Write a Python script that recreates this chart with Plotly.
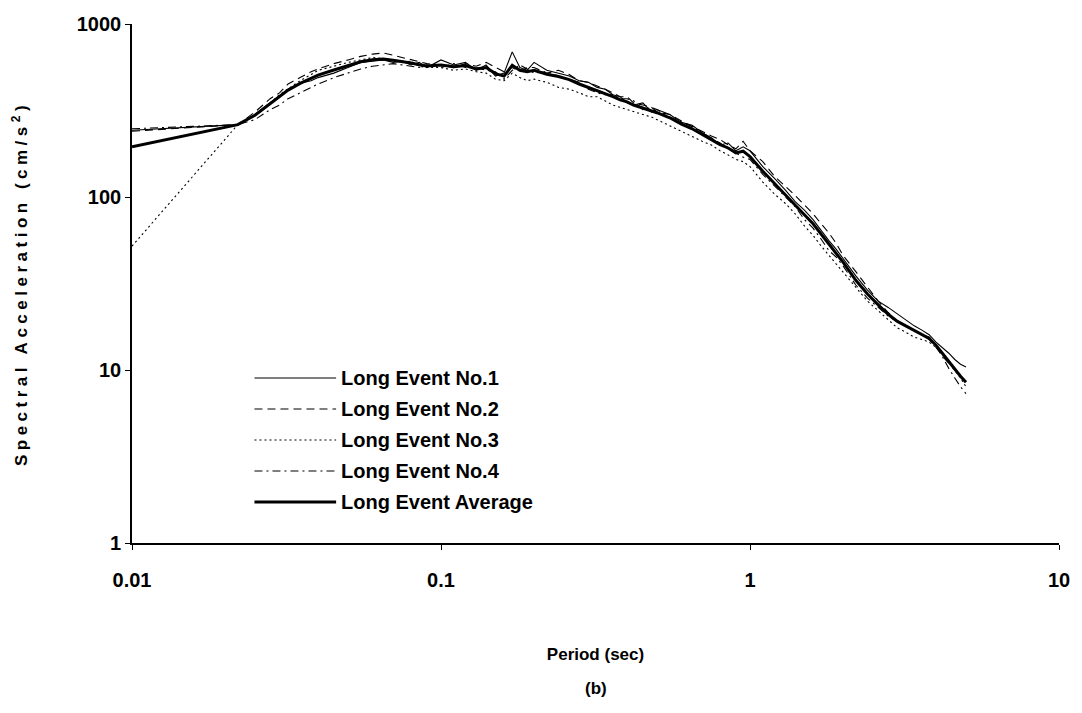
import plotly.graph_objects as go

# Spectral periods (s)
periods = [0.01, 0.022, 0.025, 0.028, 0.03, 0.032, 0.035, 0.038, 0.04, 0.045,
           0.05, 0.055, 0.06, 0.065, 0.07, 0.075, 0.08, 0.085, 0.09, 0.1,
           0.11, 0.12, 0.13, 0.14, 0.15, 0.16, 0.17, 0.18, 0.19, 0.2,
           0.22, 0.24, 0.26, 0.28, 0.3, 0.32, 0.34, 0.36, 0.38, 0.4,
           0.42, 0.45, 0.48, 0.5, 0.55, 0.6, 0.65, 0.7, 0.75, 0.8,
           0.85, 0.9, 0.95, 1.0, 1.1, 1.2, 1.3, 1.4, 1.5, 1.6,
           1.7, 1.8, 1.9, 2.0, 2.2, 2.4, 2.6, 2.8, 3.0, 3.2,
           3.4, 3.6, 3.8, 4.0, 4.2, 4.4, 4.6, 4.8, 5.0]

# Spectral acceleration (cm/s^2) for each record
event_1 = [243, 262, 300, 350, 380, 420, 455, 470, 490, 520,
           560, 600, 610, 620, 600, 610, 580, 600, 560, 620,
           580, 600, 540, 580, 500, 520, 690, 560, 540, 600,
           540, 520, 500, 470, 460, 430, 420, 390, 380, 350,
           340, 350, 310, 320, 300, 270, 260, 235, 220, 200,
           205, 185, 195, 185, 150, 128, 110, 94, 84, 74,
           64, 56, 50, 44, 35, 29, 25, 23, 21, 19.5,
           18, 17, 16, 14.5, 13.5, 12.5, 11.5, 10.8, 10.4]

event_2 = [240, 262, 310, 370, 400, 450, 490, 530, 550, 590,
           620, 650, 670, 680, 660, 640, 620, 600, 590, 580,
           560, 590, 570, 600, 560, 530, 560, 530, 560, 560,
           520, 540, 510, 470, 460, 440, 420, 400, 380, 380,
           350, 340, 330, 310, 300, 275, 255, 240, 225, 215,
           200, 190, 210, 185, 160, 132, 116, 102, 90, 80,
           70, 62, 54, 46, 37, 30, 25, 21.5, 19, 18,
           17, 16, 15, 13.5, 12, 11, 10, 9.2, 8.6]

event_3 = [52, 262, 300, 350, 390, 420, 470, 510, 540, 570,
           600, 620, 640, 630, 620, 600, 610, 570, 560, 560,
           540, 550, 530, 520, 480, 470, 520, 490, 470, 480,
           460, 430, 420, 400, 380, 380, 360, 340, 330, 320,
           310, 300, 290, 280, 260, 240, 225, 210, 200, 185,
           175, 165, 160, 150, 122, 104, 92, 80, 68, 60,
           52, 46, 41, 37, 30, 25, 22, 19.5, 17.5, 16.5,
           15.5, 15, 14.5, 13.5, 12.5, 11, 10, 9, 8]

event_4 = [248, 262, 280, 320, 340, 370, 400, 430, 450, 490,
           520, 550, 570, 580, 590, 580, 570, 560, 580, 560,
           590, 560, 560, 540, 530, 480, 540, 580, 550, 520,
           530, 500, 480, 460, 420, 400, 390, 390, 370, 370,
           360, 320, 330, 320, 290, 270, 255, 235, 220, 205,
           190, 180, 170, 165, 135, 116, 100, 88, 74, 66,
           57, 49, 45, 40, 31, 26, 23, 20.5, 19, 18,
           17, 16, 15.5, 14, 11.8, 10.2, 9, 8, 7.3]

event_avg = [195, 262, 297, 347, 377, 415, 454, 485, 507, 542,
             575, 605, 622, 627, 617, 607, 595, 582, 572, 580,
             567, 575, 550, 560, 517, 500, 577, 540, 530, 540,
             512, 497, 477, 450, 430, 412, 397, 380, 365, 355,
             340, 327, 315, 307, 287, 264, 248, 230, 216, 201,
             192, 180, 184, 171, 141, 120, 104, 91, 79, 70,
             61, 53, 47, 42, 33, 27.5, 23.8, 21, 19.1, 18,
             16.9, 16, 15.2, 13.9, 12.4, 11.2, 10.1, 9.2, 8.5]

series_names = ["Long Event No.1", "Long Event No.2", "Long Event No.3",
                "Long Event No.4", "Long Event Average"]

x_tick_vals = [0.01, 0.1, 1, 10]
x_tick_text = ["0.01", "0.1", "1", "10"]
y_tick_vals = [1, 10, 100, 1000]
y_tick_text = ["1", "10", "100", "1000"]

FONT = "Arial, 'Liberation Sans', sans-serif"

styles = [
    dict(width=1.1, dash="solid"),
    dict(width=1.1, dash="8px,5px"),
    dict(width=1.1, dash="2px,3px"),
    dict(width=1.1, dash="8px,4px,2px,4px"),
    dict(width=3, dash="solid"),
]

# Plot-area geometry in pixels (used for the key placed inside the axes)
W, H = 1082, 713
L, R, T, B = 132, 19, 24, 170
plot_w = W - L - R
plot_h = H - T - B

fig = go.Figure()
for name, vals, st in zip(series_names,
                          [event_1, event_2, event_3, event_4, event_avg],
                          styles):
    fig.add_trace(go.Scatter(
        x=periods, y=vals, mode="lines", name=name, showlegend=False,
        line=dict(color="black", width=st["width"], dash=st["dash"]),
    ))

# Key: long sample line followed by the series name
key_x0, key_x1, key_text_x = 255, 337, 340
key_y0, key_dy = 378, 31
for i, (name, st) in enumerate(zip(series_names, styles)):
    ypix = key_y0 + key_dy * i
    yp = (H - B - ypix) / plot_h
    fig.add_shape(
        type="line", xref="paper", yref="paper",
        x0=(key_x0 - L) / plot_w, x1=(key_x1 - L) / plot_w, y0=yp, y1=yp,
        line=dict(color="black", width=st["width"], dash=st["dash"]),
    )
    fig.add_annotation(
        text=name, xref="paper", yref="paper",
        x=(key_text_x - L) / plot_w, y=yp, xanchor="left", yanchor="middle",
        showarrow=False,
        font=dict(family=FONT, size=20, color="black", weight="bold"),
    )

axis_common = dict(
    type="log",
    showgrid=False,
    zeroline=False,
    showline=True,
    linecolor="black",
    linewidth=1.6,
    ticks="outside",
    ticklen=5,
    tickcolor="black",
    tickwidth=1.2,
    tickfont=dict(family=FONT, size=20, color="black", weight="bold"),
    mirror=False,
)

fig.update_xaxes(
    **axis_common,
    range=[-2, 1],
    tickvals=x_tick_vals,
    ticktext=x_tick_text,
    ticklabelstandoff=13,
    title=dict(text="Period (sec)", standoff=58,
               font=dict(family=FONT, size=17, color="black", weight="bold")),
)
fig.update_yaxes(
    **axis_common,
    range=[0, 3],
    tickvals=y_tick_vals,
    ticktext=y_tick_text,
    title=dict(text="Spectral Acceleration (cm/s<sup>2</sup>)", standoff=45,
               font=dict(family=FONT, size=17, color="black", weight="bold")),
)

fig.add_annotation(
    text="(b)", xref="paper", yref="paper", x=0.5, y=-(688 - (H - B)) / plot_h,
    showarrow=False, yanchor="middle",
    font=dict(family=FONT, size=17, color="black", weight="bold"),
)

fig.update_layout(
    width=W,
    height=H,
    margin=dict(l=L, r=R, t=T, b=B),
    paper_bgcolor="white",
    plot_bgcolor="white",
    showlegend=False,
)

# Wide letter spacing for the vertical axis title
spacing_js = (
    "document.querySelectorAll('.ytitle').forEach(function(t){"
    "t.style.letterSpacing='4.5px';});"
)

fig.write_html("out.html", post_script=spacing_js)
